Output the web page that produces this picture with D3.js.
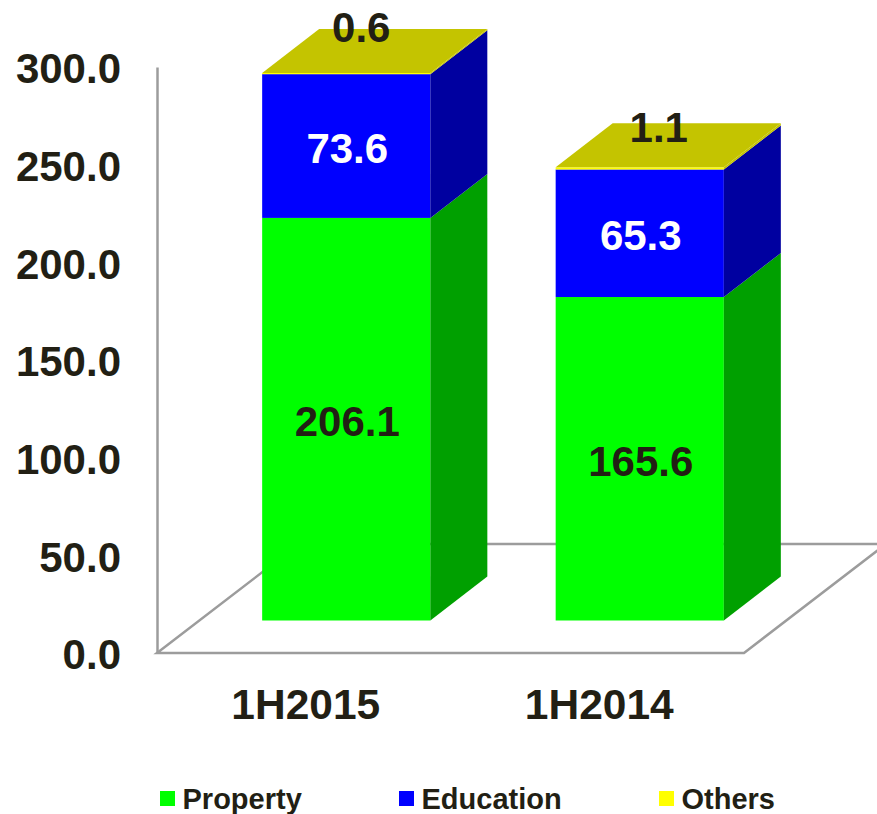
<!DOCTYPE html>
<html><head><meta charset="utf-8">
<script src="https://cdn.jsdelivr.net/npm/d3@7"></script>
<style>
html,body{margin:0;padding:0;background:#fff;overflow:hidden}
text{font-family:"Liberation Sans",Arial,sans-serif;font-weight:700}
</style></head><body>
<svg id="c" width="877" height="814"></svg>
<script>
const categories = ["1H2015","1H2014"];
const seriesNames = ["Property","Education","Others"];
const property = [206.1,165.6];
const education = [73.6,65.3];
const others = [0.6,1.1];
const tickValues = [0,50,100,150,200,250,300];
const frontColors = ["#00ff00","#0000ff","#ffff00"];
const sideColors = ["#00a000","#0000a0","#c4c400"];
const labelColors = ["#221f14","#ffffff","#221f14"];
const inkColor = "#221f14", axisColor = "#9c9c9c";

const svg = d3.select("#c");
const floorY = 653, plotLeft = 157, plotRight = 744, yTop = 67;
const depth = {dx:142, dy:109}, barDepth = {dx:57, dy:44};
const inset = {dx:(depth.dx-barDepth.dx)/2, dy:(depth.dy-barDepth.dy)/2};

const x = d3.scaleBand().domain(categories).range([plotLeft,plotRight]).paddingInner(0.427).paddingOuter(0.2135);
const y = d3.scaleLinear().domain([0,300]).range([floorY,yTop]);
const stack = d3.stack().keys(seriesNames).value((d,k)=>d[k]);
const rows = categories.map((c,i)=>({cat:c,Property:property[i],Education:education[i],Others:others[i]}));
const layers = stack(rows);

const pts = a=>a.map(p=>p.join(",")).join(" ");
// floor
svg.append("polygon")
  .attr("points",pts([[plotLeft,floorY],[plotRight,floorY],[plotRight+depth.dx,floorY-depth.dy],[plotLeft+depth.dx,floorY-depth.dy]]))
  .attr("fill","#fff").attr("stroke",axisColor).attr("stroke-width",2.5);
// value axis
const yAxis = d3.axisLeft(y).tickValues(tickValues).tickSize(0).tickPadding(36).tickFormat(d3.format(".1f"));
const ga = svg.append("g").attr("transform",`translate(${plotLeft},0)`).call(yAxis);
ga.select(".domain").attr("stroke",axisColor).attr("stroke-width",2.5);
ga.selectAll("text").attr("font-size",42).attr("fill",inkColor).attr("dy","0.38em")
  .style("font-family",'"Liberation Sans",Arial,sans-serif').style("font-weight",700);
// category axis
const xAxis = d3.axisBottom(x).tickSize(0).tickPadding(0);
const gx = svg.append("g").attr("transform",`translate(2,${floorY})`).call(xAxis);
gx.select(".domain").remove();
gx.selectAll("text").attr("font-size",42.5).attr("fill",inkColor).attr("y",66).attr("dy",0)
  .style("font-family",'"Liberation Sans",Arial,sans-serif').style("font-weight",700);

// bars
const bw = x.bandwidth();
layers.forEach((layer,s)=>{
  const g = svg.append("g");
  layer.forEach((d,i)=>{
    const l = x(categories[i])+inset.dx, r = l+bw;
    const b = y(d[0])-inset.dy, t = y(d[1])-inset.dy;
    g.append("rect").attr("x",l).attr("y",t).attr("width",bw).attr("height",b-t).attr("fill",frontColors[s]);
    g.append("polygon").attr("points",pts([[r,b],[r+barDepth.dx,b-barDepth.dy],[r+barDepth.dx,t-barDepth.dy],[r,t]])).attr("fill",sideColors[s]);
    if(s===layers.length-1)
      g.append("polygon").attr("points",pts([[l,t],[r,t],[r+barDepth.dx,t-barDepth.dy],[l+barDepth.dx,t-barDepth.dy]])).attr("fill","#c4c400");
  });
});
// value labels
const topLabelShift = [[15,-46],[19,-40]];
layers.forEach((layer,s)=>{
  layer.forEach((d,i)=>{
    const isTop = s===layers.length-1;
    const l = x(categories[i])+inset.dx;
    const b = y(d[0])-inset.dy, t = y(d[1])-inset.dy;
    const px = l+bw/2+(isTop?topLabelShift[i][0]:1);
    const py = isTop ? t+topLabelShift[i][1] : (b+t)/2+2;
    svg.append("text").attr("x",px).attr("y",py).attr("dy","0.36em").attr("text-anchor","middle")
      .attr("font-size",42).attr("fill",labelColors[s]).text(d3.format(".1f")(d.data[seriesNames[s]]));
  });
});
// legend
const legendX = d3.scaleOrdinal().domain(seriesNames).range([160,399,659]);
seriesNames.forEach((n,s)=>{
  svg.append("rect").attr("x",legendX(n)).attr("y",791).attr("width",15).attr("height",15).attr("fill",frontColors[s]);
  svg.append("text").attr("x",legendX(n)+22.5).attr("y",809).attr("font-size",29).attr("fill",inkColor).text(n);
});
</script></body></html>
